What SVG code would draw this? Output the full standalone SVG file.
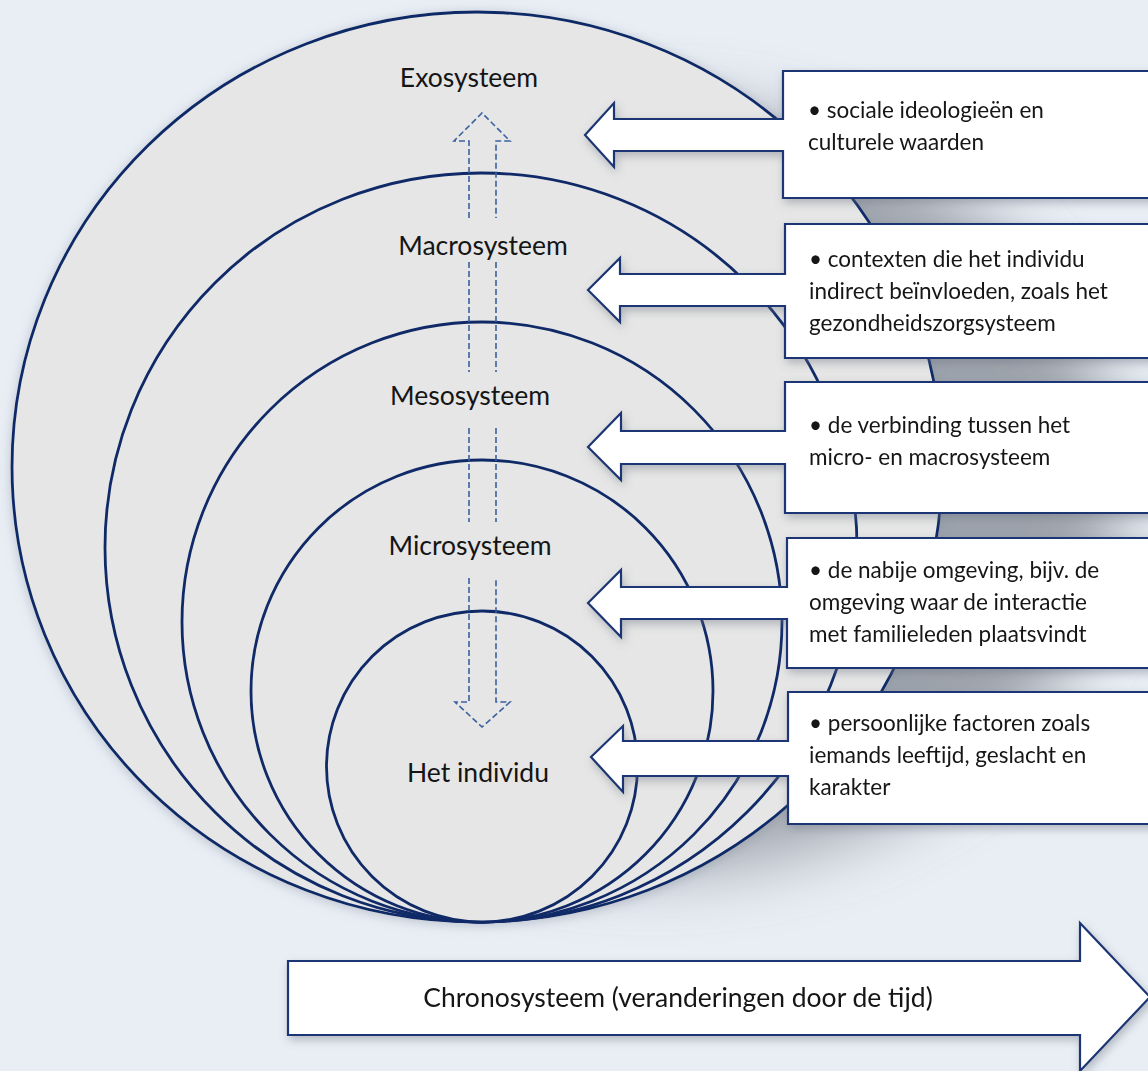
<svg xmlns="http://www.w3.org/2000/svg" width="1148" height="1071" viewBox="0 0 1148 1071">
<defs>
<filter id="blurBig" x="-30%" y="-30%" width="160%" height="160%"><feGaussianBlur stdDeviation="35"/></filter>
<filter id="soft" x="-10%" y="-10%" width="130%" height="130%"><feDropShadow dx="2" dy="4" stdDeviation="5" flood-color="#6b7380" flood-opacity="0.45"/></filter>
<filter id="circShadow" x="-10%" y="-10%" width="120%" height="120%"><feDropShadow dx="0" dy="2" stdDeviation="6" flood-color="#8a94a3" flood-opacity="0.5"/></filter>
</defs>
<style>
.ring{fill:#e6e6e6;stroke:#102a68;stroke-width:2.8}
.dash{fill:none;stroke:#3b62a0;stroke-width:1.6;stroke-dasharray:6 3}
.call{fill:#ffffff;stroke:#1c3674;stroke-width:2.2}
.lbl{font-family:Lato,"Liberation Sans",sans-serif;font-size:26.5px;fill:#151515;text-anchor:middle}
.txt{font-family:Lato,"Liberation Sans",sans-serif;font-size:22.5px;fill:#151515}
</style>
<rect width="1148" height="1071" fill="#e9eef5"/>
<ellipse cx="650" cy="490" rx="470" ry="380" fill="#8a9099" opacity="0.8" filter="url(#blurBig)"/>

<g id="circles">
<ellipse id="exo" class="ring" cx="477" cy="467" rx="465" ry="455" filter="url(#circShadow)"/>
<ellipse id="macro" class="ring" cx="481" cy="547.5" rx="376" ry="374.5"/>
<circle id="meso" class="ring" cx="482" cy="622" r="300"/>
<circle id="micro" class="ring" cx="482" cy="691" r="231"/>
<circle id="individu" class="ring" cx="482" cy="766.5" r="155.5"/>
</g>

<g id="connectors">
<path class="dash" d="M469,218 V141 H454 L482,113 L510,141 H496 V218"/>
<path class="dash" d="M469,262 V372 M496,262 V372"/>
<path class="dash" d="M469,428 V522 M496,428 V522"/>
<path class="dash" d="M469,578 V702 H455 L482,727 L510,702 H496 V578"/>
</g>

<g id="labels">
<text class="lbl" x="469" y="87">Exosysteem</text>
<text class="lbl" x="483" y="255">Macrosysteem</text>
<text class="lbl" x="470" y="405">Mesosysteem</text>
<text class="lbl" x="470" y="555">Microsysteem</text>
<text class="lbl" x="478" y="782">Het individu</text>
</g>

<g id="box-exo" filter="url(#soft)">
<path class="call" d="M783,71 H1160 V198 H783 V151 H614 V167 L585,135 L614,103 V119 H783 Z"/>
<text class="txt" x="808" y="118">• sociale ideologieën en</text>
<text class="txt" x="808" y="150">culturele waarden</text>
</g>
<g id="box-macro" filter="url(#soft)">
<path class="call" d="M785,224 H1160 V358 H785 V306 H620 V322 L588,290 L620,258 V274 H785 Z"/>
<text class="txt" x="809" y="267">• contexten die het individu</text>
<text class="txt" x="809" y="299">indirect beïnvloeden, zoals het</text>
<text class="txt" x="809" y="331">gezondheidszorgsysteem</text>
</g>
<g id="box-meso" filter="url(#soft)">
<path class="call" d="M785,382 H1160 V513 H785 V464 H621 V480 L588,447 L621,413 V431 H785 Z"/>
<text class="txt" x="809" y="433">• de verbinding tussen het</text>
<text class="txt" x="809" y="465">micro- en macrosysteem</text>
</g>
<g id="box-micro" filter="url(#soft)">
<path class="call" d="M787,538 H1160 V668 H787 V619 H621 V637 L588,603 L621,570 V587 H787 Z"/>
<text class="txt" x="809" y="578">• de nabije omgeving, bijv. de</text>
<text class="txt" x="809" y="610">omgeving waar de interactie</text>
<text class="txt" x="809" y="642">met familieleden plaatsvindt</text>
</g>
<g id="box-individu" filter="url(#soft)">
<path class="call" d="M788,692 H1160 V824 H788 V776 H623 V792 L591,757 L623,726 V741 H788 Z"/>
<text class="txt" x="809" y="731">• persoonlijke factoren zoals</text>
<text class="txt" x="809" y="763">iemands leeftijd, geslacht en</text>
<text class="txt" x="809" y="795">karakter</text>
</g>

<g id="chrono" filter="url(#soft)">
<path class="call" d="M288,961 H1080 V923 L1150,997 L1080,1071 V1035 H288 Z"/>
<text class="lbl" x="678" y="1007">Chronosysteem (veranderingen door de tijd)</text>
</g>
</svg>
